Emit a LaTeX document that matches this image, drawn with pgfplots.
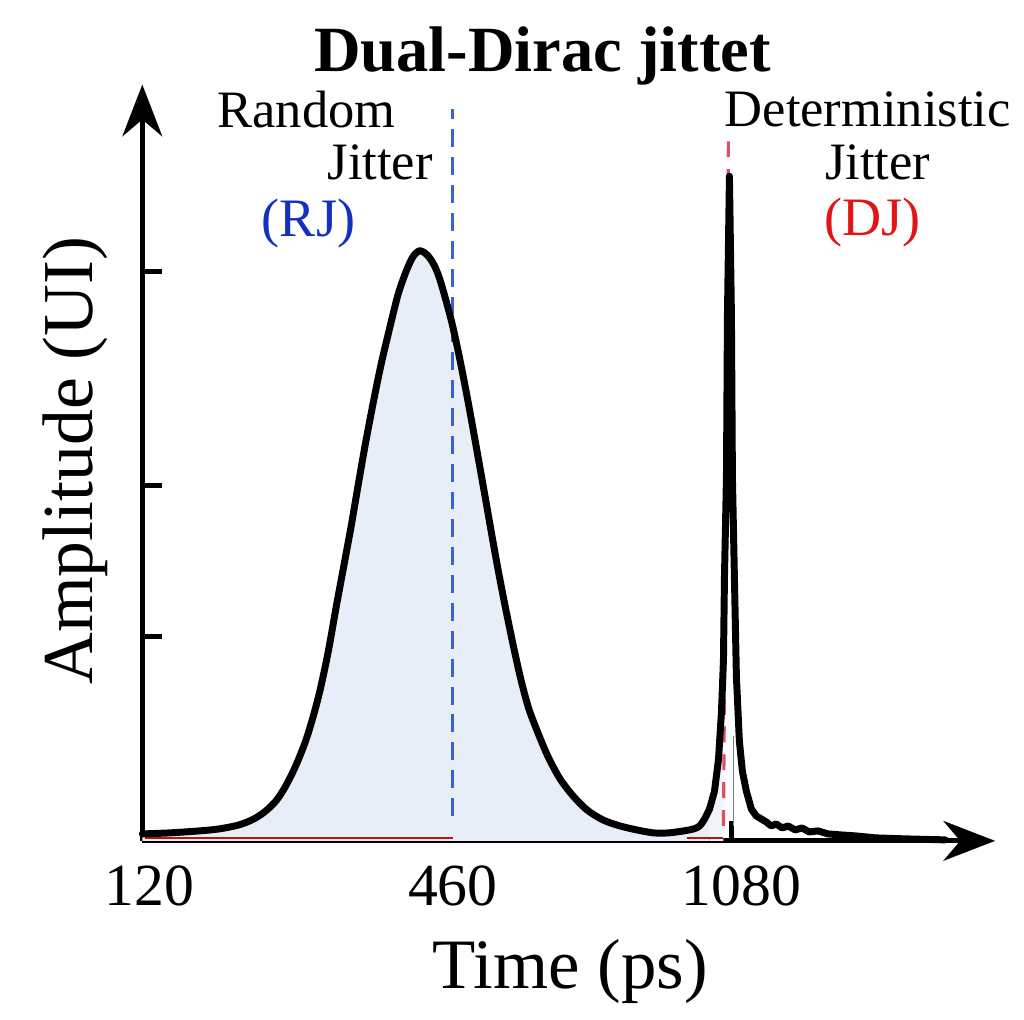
\documentclass[border=0pt]{standalone}
\usepackage{fontspec}
\setmainfont{Liberation Serif}
\usepackage{pgfplots}
\pgfplotsset{compat=1.18}
\usepackage{pgfplotstable}
\usetikzlibrary{arrows.meta}
\definecolor{rjfill}{HTML}{E8EEF8}
\definecolor{rjline}{HTML}{3A62D6}
\definecolor{rjtext}{HTML}{1530C0}
\definecolor{djtext}{HTML}{E01515}
\definecolor{djline}{HTML}{E0505F}

\pgfplotstableread{
x y
143 7
170 8
200 10
220 12
240 16
255 22
267 30
278 41
287 55
297 75
307 100
315 126
322 153
330 191
338 236
346 279
353 317
360 358
367 398
375 440
383 479
392 517
400 549
408 572
415 587
422 593
430 588
437 577
443 561
453 525
460 494
467 459
473 427
480 388
488 343
495 303
501 270
507 239
515 200
523 164
531 134
540 110
551 84
563 62
576 45
590 31
606 21
623 15
640 11
657 8
672 8
680 9
687 10
697 12
703 15
708 22
713 32
718 50
722 82
725 130
727 182
728 265
730 365
731 528
733 668
735 528
736 365
738 265
740 165
743 100
746 70
750 50
755 32
760 25
765 22
770 19
775 15
780 17
786 13
792 15
799 11
806 13
813 9
822 10
832 7
845 6
860 5
880 3
910 2
950 1
}\jitter

\begin{document}
\begin{tikzpicture}
\begin{axis}[
  x=0.25pt, y=0.25pt,
  xmin=143, xmax=1000, ymin=0, ymax=760,
  axis lines=left,
  axis line style={line width=1.25pt, -{Stealth[length=13pt,width=10pt]}},
  clip=false,
  xtick={455,735}, xticklabels={},
  ytick={205,357,572}, yticklabels={},
  tick align=inside, major tick length=5pt,
  tick style={line width=1.25pt, black},
  extra x ticks={150,455,745},
  extra x tick labels={120,460,1080},
  extra x tick style={tick style={draw=none}},
  xticklabel style={anchor=base, yshift=-16.25pt, font=\fontsize{15}{18}\selectfont},
  /pgf/number format/assume math mode=true,
]
\path (axis cs:0,-179) rectangle (axis cs:1024,845);

\addplot[fill=rjfill, draw=none, smooth, tension=0.5, restrict x to domain=143:713] table[x=x,y=y] {\jitter} \closedcycle;
\addplot[fill=rjfill!60!white, draw=none, restrict x to domain=713:727] table[x=x,y=y] {\jitter} \closedcycle;

\addplot[djtext!85!black, line width=0.6pt] coordinates {(146,3) (455,3)};
\addplot[djtext!85!black, line width=0.6pt] coordinates {(690,3) (727,3)};

\addplot[rjline, line width=0.8pt, dash pattern=on 4.5pt off 2.5pt] coordinates {(455,25) (455,735)};
\addplot[djline, line width=0.8pt, dash pattern=on 4pt off 3pt] coordinates {(727,15) (732,705)};
\addplot[gray, line width=0.4pt] coordinates {(737,15) (737,105)};

\addplot[black, line width=1.75pt, line join=round, line cap=round, smooth, tension=0.5, restrict x to domain=143:713] table[x=x,y=y] {\jitter};
\addplot[black, line width=1.75pt, line join=round, line cap=round, restrict x to domain=713:950] table[x=x,y=y] {\jitter};

\node[anchor=base, font=\fontsize{16.2}{19}\selectfont\bfseries] at (axis cs:545,773) {Dual-Dirac jittet};
\node[anchor=base, rotate=90, font=\fontsize{18}{21}\selectfont] at (axis cs:93,382) {Amplitude (UI)};
\node[anchor=base, font=\fontsize{17.8}{21}\selectfont] at (axis cs:573,-148) {Time (ps)};

\node[anchor=base, font=\fontsize{13.2}{16}\selectfont] at (axis cs:308,717) {Random};
\node[anchor=base, font=\fontsize{13.2}{16}\selectfont] at (axis cs:382,665) {Jitter};
\node[anchor=base, text=rjtext, font=\fontsize{13.6}{16}\selectfont] at (axis cs:310,607) {(RJ)};

\node[anchor=base, font=\fontsize{13.2}{16}\selectfont] at (axis cs:872,718) {Deterministic};
\node[anchor=base, font=\fontsize{13.2}{16}\selectfont] at (axis cs:882,665) {Jitter};
\node[anchor=base, text=djtext, font=\fontsize{13.6}{16}\selectfont] at (axis cs:877,608) {(DJ)};
\end{axis}
\end{tikzpicture}
\end{document}
